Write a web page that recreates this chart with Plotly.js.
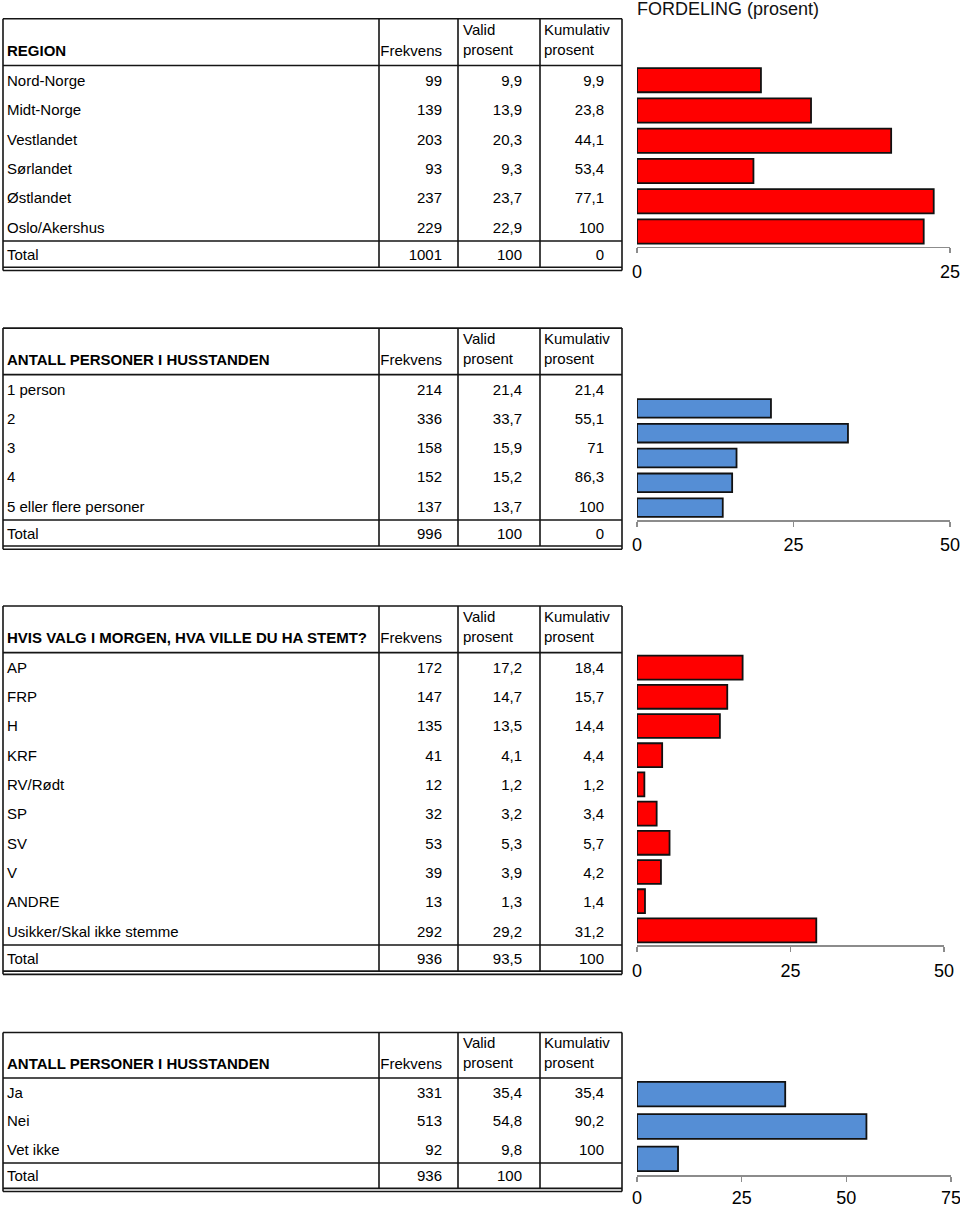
<!DOCTYPE html>
<html><head><meta charset="utf-8">
<script src="https://cdn.plot.ly/plotly-3.0.1.min.js"></script>
<style>html,body{margin:0;padding:0;background:#fff}</style>
</head><body><div id="chart" style="width:960px;height:1207px"></div>
<script>
// ---------- DATA ----------
const regionTitle = 'REGION';
const regionLabels = ['Nord-Norge','Midt-Norge','Vestlandet','Sørlandet','Østlandet','Oslo/Akershus'];
const regionFreq = [99,139,203,93,237,229];
const regionValid = [9.9,13.9,20.3,9.3,23.7,22.9];
const regionCum = [9.9,23.8,44.1,53.4,77.1,100];
const regionTotal = ['1001','100','0'];

const householdTitle = 'ANTALL PERSONER I HUSSTANDEN';
const householdLabels = ['1 person','2','3','4','5 eller flere personer'];
const householdFreq = [214,336,158,152,137];
const householdValid = [21.4,33.7,15.9,15.2,13.7];
const householdCum = [21.4,55.1,71,86.3,100];
const householdTotal = ['996','100','0'];

const voteTitle = 'HVIS VALG I MORGEN, HVA VILLE DU HA STEMT?';
const voteLabels = ['AP','FRP','H','KRF','RV/Rødt','SP','SV','V','ANDRE','Usikker/Skal ikke stemme'];
const voteFreq = [172,147,135,41,12,32,53,39,13,292];
const voteValid = [17.2,14.7,13.5,4.1,1.2,3.2,5.3,3.9,1.3,29.2];
const voteCum = [18.4,15.7,14.4,4.4,1.2,3.4,5.7,4.2,1.4,31.2];
const voteTotal = ['936','93,5','100'];

const yesnoTitle = 'ANTALL PERSONER I HUSSTANDEN';
const yesnoLabels = ['Ja','Nei','Vet ikke'];
const yesnoFreq = [331,513,92];
const yesnoValid = [35.4,54.8,9.8];
const yesnoCum = [35.4,90.2,100];
const yesnoTotal = ['936','100',''];

const headerFreq = 'Frekvens';
const headerValid = 'Valid<br>prosent';
const headerCum = 'Kumulativ<br>prosent';
const totalLabel = 'Total';
const chartTitle = 'FORDELING (prosent)';

// ---------- STYLE / LAYOUT ----------
const W = 960, H = 1207;
const FONT = '"Liberation Sans", Arial, Helvetica, sans-serif';
const RED = '#ff0000', BLUE = '#558ed5';
const px = p => p / W;
const py = p => 1 - p / H;
const fmt = v => String(v).replace('.', ',');

const COL = {labelX: 7, freqR: 442, validR: 522, cumR: 604, validL: 463, cumL: 544,
             borders: [379, 458, 540], left: 3, right: 622};

const tables = [
  {title: regionTitle, labels: regionLabels, freq: regionFreq, valid: regionValid, cum: regionCum, total: regionTotal,
   color: RED, firstRow: 82, pitch: 29.4, xmax: 25, bar: {top: 65, bottom: 246.7, right: 950, gap: 0.2, standoff: 3}},
  {title: householdTitle, labels: householdLabels, freq: householdFreq, valid: householdValid, cum: householdCum, total: householdTotal,
   color: BLUE, firstRow: 391, pitch: 29.25, xmax: 50, bar: {top: 396, bottom: 520, right: 950, gap: 0.25, standoff: 3}},
  {title: voteTitle, labels: voteLabels, freq: voteFreq, valid: voteValid, cum: voteCum, total: voteTotal,
   color: RED, firstRow: 669, pitch: 29.33, xmax: 50, bar: {top: 653, bottom: 945, right: 944, gap: 0.18, standoff: 4}},
  {title: yesnoTitle, labels: yesnoLabels, freq: yesnoFreq, valid: yesnoValid, cum: yesnoCum, total: yesnoTotal,
   color: BLUE, firstRow: 1094, pitch: 28.6, xmax: 75, bar: {top: 1078, bottom: 1175, right: 951, gap: 0.24, standoff: 1}}
];

const traces = [];
const layout = {
  width: W, height: H, autosize: false,
  margin: {l: 0, r: 0, t: 0, b: 0, pad: 0},
  paper_bgcolor: '#fff', plot_bgcolor: 'rgba(0,0,0,0)',
  showlegend: false,
  font: {family: FONT, size: 15, color: '#000'},
  title: {text: chartTitle, x: px(637), xanchor: 'left', xref: 'paper', y: 1 - 9 / H, yanchor: 'middle',
          font: {family: FONT, size: 18, color: '#111'}},
  shapes: [],
  xaxis5: {domain: [0, px(640)], range: [0, 640], visible: false, fixedrange: true}
};

const TOP = -2.15, HEAD_LINE = -0.56;
const lineStyle = {color: '#151515', width: 1.6};

tables.forEach((t, i) => {
  const n = t.labels.length;
  const bx = 'x' + (i + 1), by = 'y' + (i + 1);
  const ty = 'y' + (5 + i);

  // ---- bar chart ----
  traces.push({
    type: 'bar', orientation: 'h', y: t.labels, x: t.valid,
    width: t.labels.map(() => 1 - t.bar.gap),
    xaxis: bx, yaxis: by,
    marker: {color: t.color, line: {color: '#111', width: 1.8}},
    hoverinfo: 'skip'
  });
  layout['xaxis' + (i + 1)] = {
    domain: [px(637), px(t.bar.right)], range: [0, t.xmax], anchor: by,
    tick0: 0, dtick: 25, showgrid: false, zeroline: false,
    showline: true, linecolor: '#8c8c8c', linewidth: 1.5,
    ticks: 'outside', ticklen: 5, tickwidth: 1.5, tickcolor: '#8c8c8c',
    ticklabelstandoff: t.bar.standoff, ticklabeloverflow: 'allow',
    tickfont: {family: FONT, size: 18, color: '#000'}, fixedrange: true
  };
  layout['yaxis' + (i + 1)] = {
    domain: [py(t.bar.bottom), py(t.bar.top)], type: 'category', autorange: 'reversed',
    anchor: bx, showticklabels: false, showgrid: false, zeroline: false, showline: false, ticks: '', fixedrange: true
  };

  // ---- table ----
  const bottomU = n + 0.7, topU = -2.4;
  layout['yaxis' + (5 + i)] = {
    domain: [py(t.firstRow + bottomU * t.pitch), py(t.firstRow + topU * t.pitch)],
    range: [bottomU, topU], anchor: 'x5', visible: false, fixedrange: true
  };
  const rowsY = t.labels.map((_, k) => k);
  const totY = n - 0.08;
  const ys = [-1].concat(rowsY, [totY]);
  const rep = v => ys.map(() => v);
  const tf = {family: FONT, size: 15, color: '#000'};

  traces.push({type: 'scatter', mode: 'text', xaxis: 'x5', yaxis: ty, hoverinfo: 'skip',
    x: rep(COL.labelX), y: ys, text: ['<b>' + t.title + '</b>'].concat(t.labels, [totalLabel]),
    textposition: 'middle right', textfont: tf});
  traces.push({type: 'scatter', mode: 'text', xaxis: 'x5', yaxis: ty, hoverinfo: 'skip',
    x: rep(COL.freqR), y: ys, text: [headerFreq].concat(t.freq.map(fmt), [t.total[0]]),
    textposition: 'middle left', textfont: tf});
  traces.push({type: 'scatter', mode: 'text', xaxis: 'x5', yaxis: ty, hoverinfo: 'skip',
    x: rep(COL.validR).slice(1), y: ys.slice(1), text: t.valid.map(fmt).concat([t.total[1]]),
    textposition: 'middle left', textfont: tf});
  traces.push({type: 'scatter', mode: 'text', xaxis: 'x5', yaxis: ty, hoverinfo: 'skip',
    x: rep(COL.cumR).slice(1), y: ys.slice(1), text: t.cum.map(fmt).concat([t.total[2]]),
    textposition: 'middle left', textfont: tf});
  traces.push({type: 'scatter', mode: 'text', xaxis: 'x5', yaxis: ty, hoverinfo: 'skip',
    x: [COL.validL, COL.cumL], y: [-1.39, -1.39], text: [headerValid, headerCum],
    textposition: 'middle right', textfont: tf});

  const S = (x0, y0, x1, y1) => layout.shapes.push({type: 'line', xref: 'x5', yref: ty, x0, y0, x1, y1, line: lineStyle});
  const totLine = n - 0.59, bot1 = n + 0.3, bot2 = n + 0.41;
  S(COL.left, TOP, COL.right, TOP);
  S(COL.left, TOP, COL.left, bot2);
  S(COL.right, TOP, COL.right, bot2);
  S(COL.left, HEAD_LINE, COL.right, HEAD_LINE);
  S(COL.left, totLine, COL.right, totLine);
  S(COL.left, bot1, COL.right, bot1);
  S(COL.left, bot2, COL.right, bot2);
  COL.borders.forEach(b => S(b, TOP, b, bot1));
});

Plotly.newPlot('chart', traces, layout, {staticPlot: true, displayModeBar: false});
</script>
</body></html>
